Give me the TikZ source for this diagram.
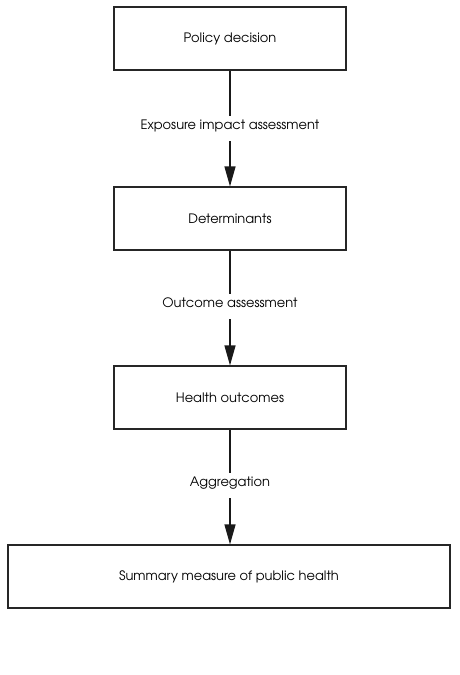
\documentclass[tikz,border=0pt]{standalone}
\usepackage{fontspec}
\setmainfont{texgyreadventor-regular.otf}
\usetikzlibrary{arrows.meta}
\begin{document}
\begin{tikzpicture}[x=1pt,y=-1pt,
  box/.style={draw=black!85,line width=1.1pt,minimum width=232pt,minimum height=63pt,inner sep=0pt,font=\fontsize{13}{15}\selectfont},
  lab/.style={inner sep=0pt,font=\fontsize{13}{15}\selectfont,text height=9pt,text depth=3pt},
  conn/.style={line width=1.1pt,black!90},
  arr/.style={conn,-{Triangle[length=20pt,width=11pt]}}]
\useasboundingbox (0,0) rectangle (459,675);
\node[box] (b1) at (230,38.5) {Policy decision};
\node[box] (b2) at (230,218.5) {Determinants};
\node[box] (b3) at (230,397.5) {Health outcomes};
\node[box,minimum width=442pt] (b4) at (229,576.5) {Summary measure of public health};
\node[lab] (l1) at (230,126) {Exposure impact assessment};
\node[lab] (l2) at (230,304) {Outcome assessment};
\node[lab] (l3) at (230,483) {Aggregation};
\draw[conn,shorten >=4pt] (b1) -- (l1);
\draw[arr,shorten <=9pt] (l1) -- (b2);
\draw[conn,shorten >=4pt] (b2) -- (l2);
\draw[arr,shorten <=9pt] (l2) -- (b3);
\draw[conn,shorten >=4pt] (b3) -- (l3);
\draw[arr,shorten <=9pt] (l3) -- (b4.north -| l3);
\end{tikzpicture}
\end{document}
